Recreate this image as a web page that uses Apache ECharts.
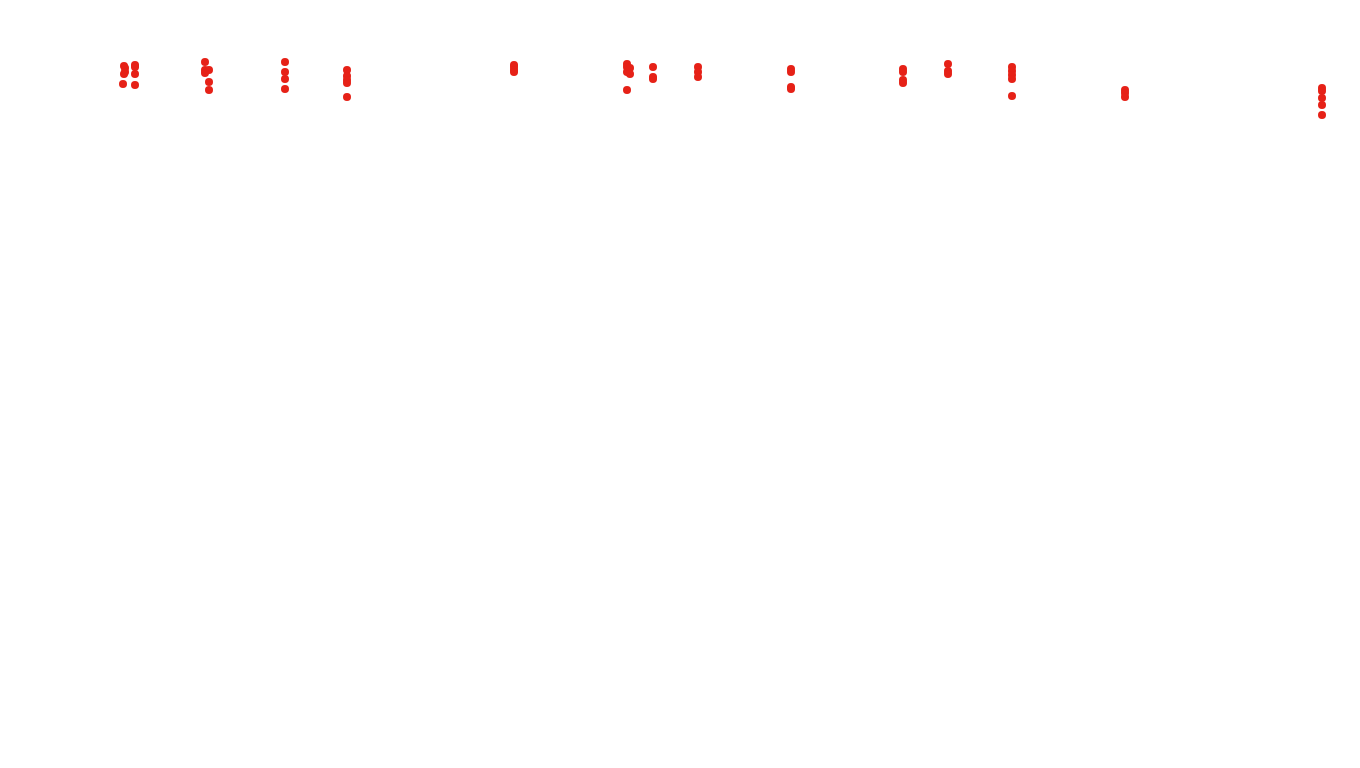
<!DOCTYPE html>
<html>
<head>
<meta charset="utf-8">
<script src="https://cdn.jsdelivr.net/npm/echarts@6/dist/echarts.min.js"></script>
<style>html,body{margin:0;padding:0;background:#fff}#c{width:1360px;height:768px}</style>
</head>
<body>
<div id="c"></div>
<script>
// x positions (column) and y values
const xs = [123,124,125,125,124, 135,135,135,135, 205,205,209,205,209,209, 285,285,285,285, 347,347,347,347,347, 514,514,514,514, 627,627,627,630,630,627, 653,653,653, 698,698,698, 791,791,791,791, 903,903,903,903, 948,948,948, 1012,1012,1012,1012,1012, 1125,1125,1125, 1322,1322,1322,1322,1322];
const ys = [84,66,68,72,74, 65,67,74,85, 62,70,70,73,82,90, 62,72,79,89, 70,76,80,83,97, 65,67,70,72, 64,67,72,68,74,90, 67,77,79, 67,72,77, 69,72,87,89, 69,72,80,83, 64,71,74, 67,71,75,79,96, 90,93,97, 88,91,98,105,115];
const data = xs.map((x, i) => [x, ys[i]]);
const chart = echarts.init(document.getElementById('c'));
chart.setOption({
  animation: false,
  grid: {left: 0, right: 0, top: 0, bottom: 0},
  xAxis: {type: 'value', min: 0, max: 1360, show: false},
  yAxis: {type: 'value', min: 0, max: 768, inverse: true, show: false},
  series: [{
    type: 'scatter',
    data: data,
    symbolSize: 8,
    itemStyle: {color: '#e62117', opacity: 1}
  }]
});
</script>
</body>
</html>
